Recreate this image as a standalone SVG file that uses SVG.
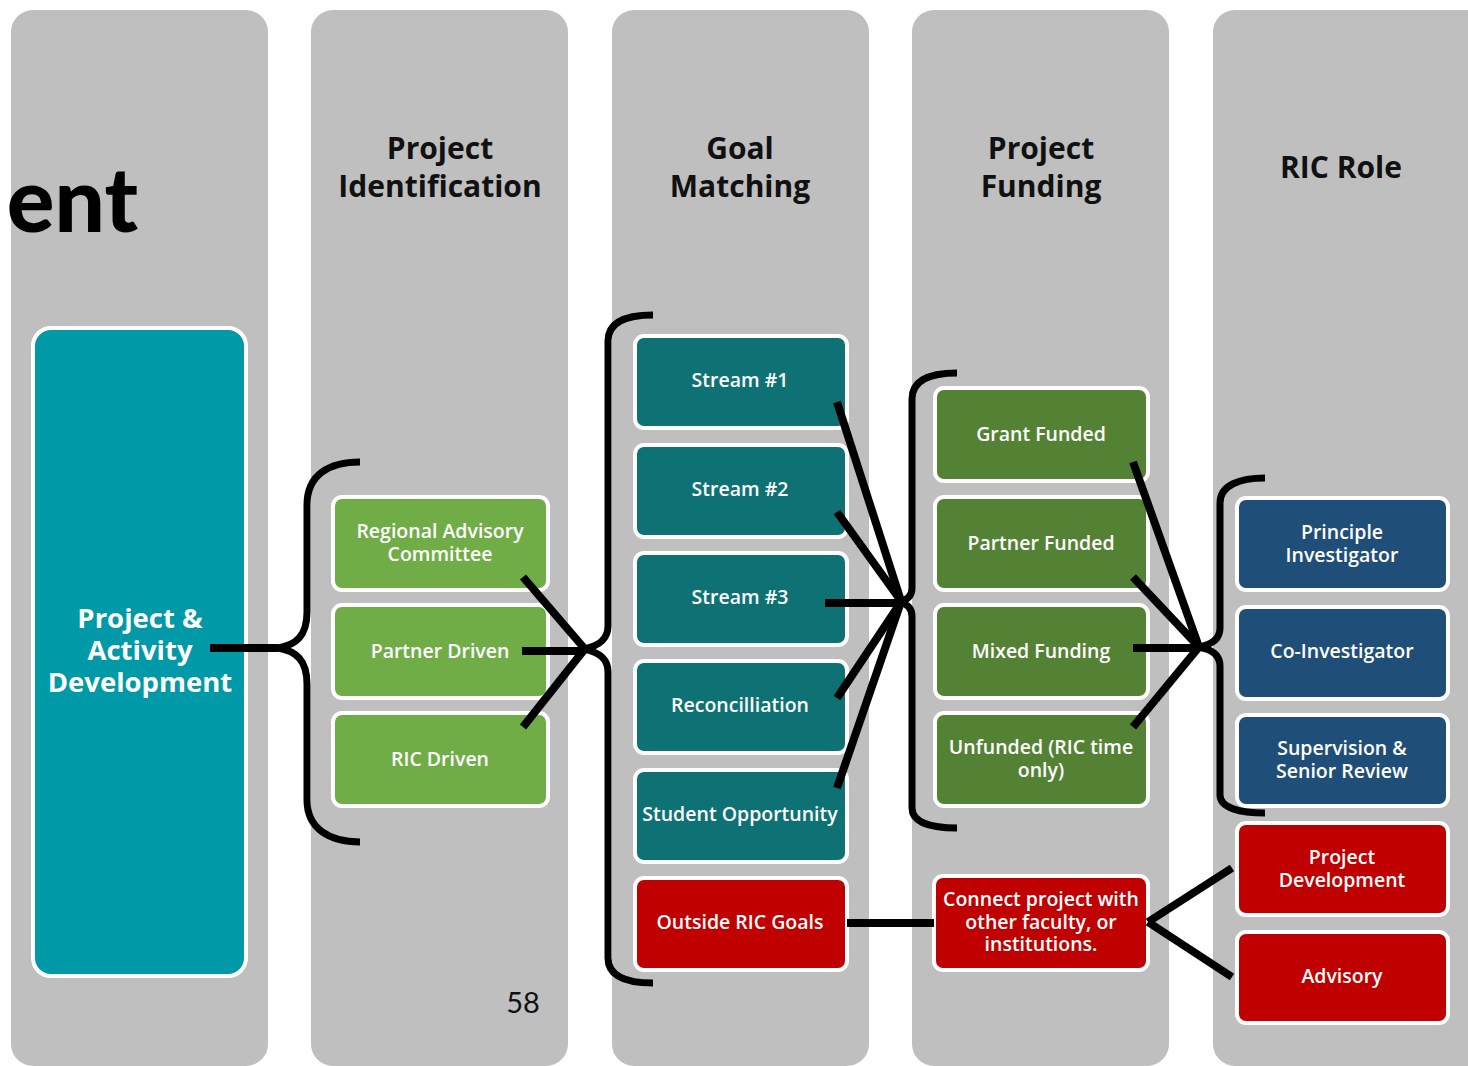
<svg xmlns="http://www.w3.org/2000/svg" width="1468" height="1066" viewBox="0 0 1468 1066">
  <style>
    .lane { fill: #BFBFBF; }
    .hdr { font-family: "Open Sans", "Liberation Sans", sans-serif; font-weight: 700; font-size: 30px; fill: #111; text-anchor: middle; }
    .box { stroke: #FFFFFF; stroke-width: 4; }
    .lbl { font-family: "Open Sans", "Liberation Sans", sans-serif; font-weight: 600; font-size: 19.5px; fill: #FFFFFF; text-anchor: middle; }
    .big { font-family: "Open Sans", "Liberation Sans", sans-serif; font-weight: 700; font-size: 27.5px; fill: #FFFFFF; text-anchor: middle; }
    .teal { fill: #0099A7; }
    .lgreen { fill: #70AD47; }
    .dteal { fill: #0E7174; }
    .dgreen { fill: #548235; }
    .blue { fill: #1F4E79; }
    .red { fill: #C00000; }
    .wire { fill: none; stroke: #000; stroke-width: 8; }
    .brace { fill: none; stroke: #000; stroke-width: 7; stroke-linejoin: round; }
  </style>

  <rect width="1468" height="1066" fill="#FFFFFF"/>

  <!-- swim lanes -->
  <g id="lanes">
    <rect class="lane" x="11" y="10" width="257" height="1056" rx="22"/>
    <rect class="lane" x="311" y="10" width="257" height="1056" rx="22"/>
    <rect class="lane" x="612" y="10" width="257" height="1056" rx="22"/>
    <rect class="lane" x="912" y="10" width="257" height="1056" rx="22"/>
    <rect class="lane" x="1213" y="10" width="290" height="1056" rx="22"/>
  </g>

  <!-- slide title fragment -->
  <text x="138" y="232" font-family="Lato, 'Liberation Sans', sans-serif" font-weight="900" font-size="89" fill="#000" text-anchor="end">ent</text>

  <!-- lane headers -->
  <g id="headers">
    <text class="hdr" x="440" y="159">Project</text>
    <text class="hdr" x="440" y="197">Identification</text>
    <text class="hdr" x="740" y="159">Goal</text>
    <text class="hdr" x="740" y="197">Matching</text>
    <text class="hdr" x="1041" y="159">Project</text>
    <text class="hdr" x="1041" y="197">Funding</text>
    <text class="hdr" x="1341" y="178">RIC Role</text>
  </g>

  <!-- start node -->
  <g id="node-project-activity">
    <rect class="box teal" x="33" y="328" width="213" height="648" rx="18"/>
    <text class="big" x="140" y="628">Project &amp;</text>
    <text class="big" x="140" y="660">Activity</text>
    <text class="big" x="140" y="692">Development</text>
  </g>

  <!-- project identification -->
  <g id="node-regional-advisory">
    <rect class="box lgreen" x="333" y="497" width="215" height="93" rx="9"/>
    <text class="lbl" x="440" y="538">Regional Advisory</text>
    <text class="lbl" x="440" y="561">Committee</text>
  </g>
  <g id="node-partner-driven">
    <rect class="box lgreen" x="333" y="605" width="215" height="93" rx="9"/>
    <text class="lbl" x="440" y="658">Partner Driven</text>
  </g>
  <g id="node-ric-driven">
    <rect class="box lgreen" x="333" y="713" width="215" height="93" rx="9"/>
    <text class="lbl" x="440" y="766">RIC Driven</text>
  </g>

  <!-- goal matching -->
  <g id="node-stream-1">
    <rect class="box dteal" x="635" y="336" width="212" height="92" rx="9"/>
    <text class="lbl" x="740" y="387">Stream #1</text>
  </g>
  <g id="node-stream-2">
    <rect class="box dteal" x="635" y="445" width="212" height="92" rx="9"/>
    <text class="lbl" x="740" y="496">Stream #2</text>
  </g>
  <g id="node-stream-3">
    <rect class="box dteal" x="635" y="553" width="212" height="92" rx="9"/>
    <text class="lbl" x="740" y="604">Stream #3</text>
  </g>
  <g id="node-reconciliation">
    <rect class="box dteal" x="635" y="661" width="212" height="92" rx="9"/>
    <text class="lbl" x="740" y="712">Reconcilliation</text>
  </g>
  <g id="node-student-opportunity">
    <rect class="box dteal" x="635" y="770" width="212" height="92" rx="9"/>
    <text class="lbl" x="740" y="821">Student Opportunity</text>
  </g>
  <g id="node-outside-goals">
    <rect class="box red" x="635" y="878" width="212" height="92" rx="9"/>
    <text class="lbl" x="740" y="929">Outside RIC Goals</text>
  </g>

  <!-- project funding -->
  <g id="node-grant-funded">
    <rect class="box dgreen" x="935" y="388" width="213" height="93" rx="9"/>
    <text class="lbl" x="1041" y="441">Grant Funded</text>
  </g>
  <g id="node-partner-funded">
    <rect class="box dgreen" x="935" y="497" width="213" height="93" rx="9"/>
    <text class="lbl" x="1041" y="550">Partner Funded</text>
  </g>
  <g id="node-mixed-funding">
    <rect class="box dgreen" x="935" y="605" width="213" height="93" rx="9"/>
    <text class="lbl" x="1041" y="658">Mixed Funding</text>
  </g>
  <g id="node-unfunded">
    <rect class="box dgreen" x="935" y="713" width="213" height="93" rx="9"/>
    <text class="lbl" x="1041" y="754">Unfunded (RIC time</text>
    <text class="lbl" x="1041" y="777">only)</text>
  </g>
  <g id="node-connect-project">
    <rect class="box red" x="934" y="876" width="214" height="94" rx="9"/>
    <text class="lbl" x="1041" y="906" font-size="19px">Connect project with</text>
    <text class="lbl" x="1041" y="929" font-size="19px">other faculty, or</text>
    <text class="lbl" x="1041" y="951" font-size="19px">institutions.</text>
  </g>

  <!-- RIC role -->
  <g id="node-principle-investigator">
    <rect class="box blue" x="1237" y="498" width="211" height="92" rx="9"/>
    <text class="lbl" x="1342" y="539">Principle</text>
    <text class="lbl" x="1342" y="562">Investigator</text>
  </g>
  <g id="node-co-investigator">
    <rect class="box blue" x="1237" y="607" width="211" height="92" rx="9"/>
    <text class="lbl" x="1342" y="658">Co-Investigator</text>
  </g>
  <g id="node-supervision">
    <rect class="box blue" x="1237" y="715" width="211" height="91" rx="9"/>
    <text class="lbl" x="1342" y="755">Supervision &amp;</text>
    <text class="lbl" x="1342" y="778">Senior Review</text>
  </g>
  <g id="node-project-development">
    <rect class="box red" x="1237" y="823" width="211" height="92" rx="9"/>
    <text class="lbl" x="1342" y="864">Project</text>
    <text class="lbl" x="1342" y="887">Development</text>
  </g>
  <g id="node-advisory">
    <rect class="box red" x="1237" y="932" width="211" height="91" rx="9"/>
    <text class="lbl" x="1342" y="983">Advisory</text>
  </g>

  <!-- braces and connecting strokes -->
  <g id="connectors">
    <path class="wire" d="M210,648 L278,648"/>
    <path class="brace" d="M360,462 C330,462 307,474 307,505 L307,612 C307,636 296,645 278,648 C296,651 307,660 307,684 L307,800 C307,829 330,842 360,842"/>

    <path class="wire" d="M523,577 L584,648"/>
    <path class="wire" d="M522,651 L584,651"/>
    <path class="wire" d="M523,727 L584,650"/>
    <path class="brace" d="M653,315 C626,315 608,322 608,341 L608,626 C608,640 598,646 584,649 C598,652 608,658 608,672 L608,958 C608,976 626,983 653,983"/>

    <path class="wire" d="M837,402 L901,601"/>
    <path class="wire" d="M837,512 L901,601"/>
    <path class="wire" d="M825,603 L901,603"/>
    <path class="wire" d="M837,698 L901,602"/>
    <path class="wire" d="M837,788 L901,602"/>
    <path class="brace" d="M957,373 C930,373 912,380 912,399 L912,588 C912,596 907,600 900,602 C907,604 912,608 912,616 L912,808 C912,822 930,828 957,828"/>

    <path class="wire" d="M1133,462 L1199,647"/>
    <path class="wire" d="M1133,577 L1199,647"/>
    <path class="wire" d="M1133,648 L1199,648"/>
    <path class="wire" d="M1133,727 L1199,647"/>
    <path class="brace" d="M1265,478 C1240,478 1220,485 1220,503 L1220,628 C1220,640 1211,645 1198,647 C1211,649 1220,654 1220,666 L1220,795 C1220,808 1240,813 1265,813"/>

    <path class="wire" d="M847,923 L934,923" stroke-width="10"/>
    <path class="wire" d="M1148,922 L1232,868"/>
    <path class="wire" d="M1148,922 L1232,977"/>
  </g>

  <!-- page number -->
  <text x="523" y="1013" font-family="Lato, 'Liberation Sans', sans-serif" font-size="29" fill="#111" text-anchor="middle">58</text>
</svg>
